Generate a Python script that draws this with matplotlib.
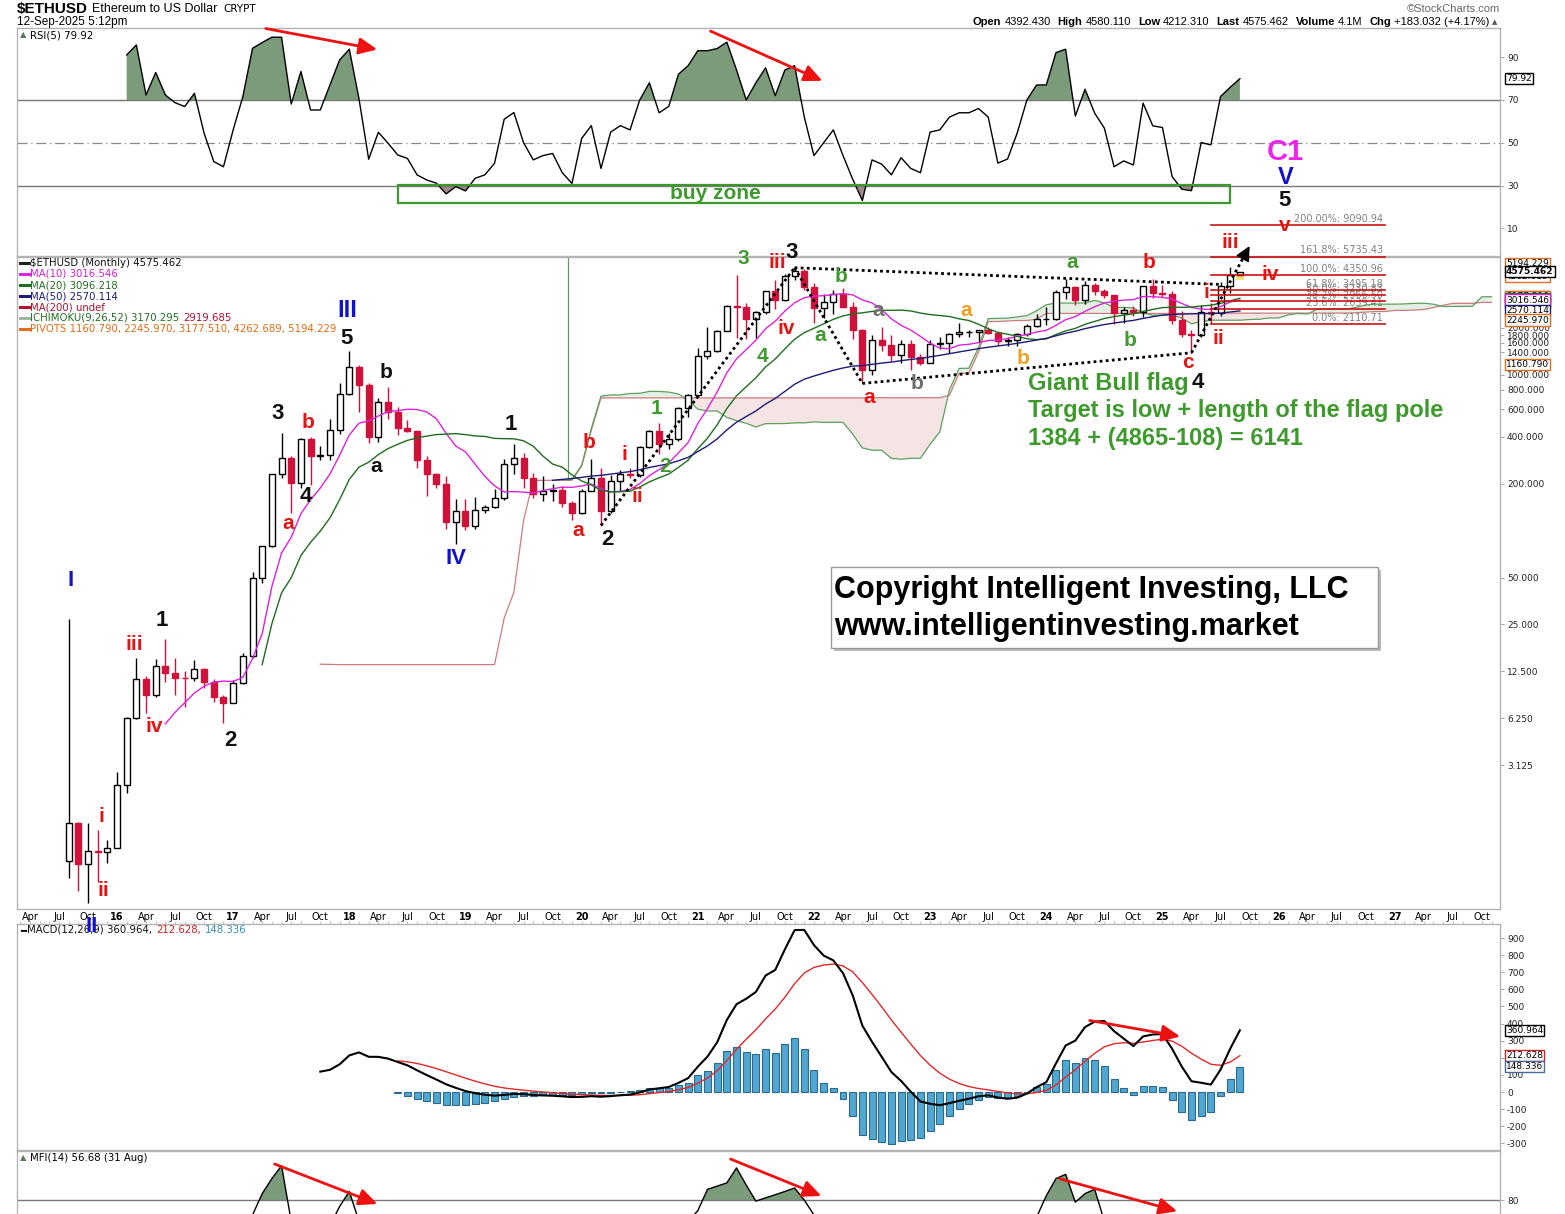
import numpy as np
import pandas as pd
import matplotlib
matplotlib.use("Agg")
import matplotlib.pyplot as plt
from matplotlib.patches import Rectangle, FancyArrowPatch
from matplotlib import font_manager
import matplotlib.transforms as mtransforms
from matplotlib.ticker import FixedLocator, NullLocator, FixedFormatter

nan = np.nan

# ---------------- data (monthly ETHUSD, Aug-2015 .. Sep-2025) ----------------
months = pd.period_range("2015-08", "2025-09", freq="M")

opens = [0.76, 1.32, 0.72, 0.88, 0.87,
         0.92, 2.33, 6.25, 11.1, 8.8, 13.5, 12.2, 11.4, 11.3, 13.0, 10.6, 8.5,
         7.8, 10.5, 15.6, 50, 79.8, 230, 293, 201, 388, 302, 306, 442,
         756, 1118, 856, 396, 670, 578, 455, 433, 282, 232, 198, 113,
         133, 107, 136, 141, 162, 268, 291, 218, 172, 180, 182, 151,
         130, 180, 218, 133, 207, 231, 226, 345, 434, 360, 386, 615,
         738, 1314, 1419, 1918, 2772, 2707, 2275, 2536, 3433, 3000, 4290, 4630,
         3680, 2690, 2920, 3280, 2730, 1940, 1070, 1680, 1550, 1330, 1570, 1295,
         1196, 1585, 1605, 1822, 1870, 1874, 1934, 1857, 1645, 1671, 1815, 2050,
         2282, 2283, 3380, 3640, 3010, 3760, 3440, 3230, 2510, 2600, 2520, 3700,
         3330, 3300, 2240, 1820, 1795, 2530, 2490, 3700, 4392.43]
highs = [27.2, 1.35, 1.33, 1.20, 1.03,
         2.83, 6.4, 15.2, 11.6, 15.0, 20.3, 15.2, 12.6, 14.7, 13.2, 11.2, 8.8,
         11.0, 16.5, 54.5, 80, 232, 420, 300, 392, 396, 349, 518, 880,
         1420, 1160, 880, 710, 835, 624, 515, 436, 302, 233, 223, 159,
         159, 165, 146, 185, 288, 362, 317, 236, 224, 199, 194, 154,
         185, 288, 253, 227, 245, 253, 350, 444, 488, 420, 622, 755,
         1475, 2040, 1945, 2790, 4380, 2890, 2550, 3470, 4030, 4460, 4870, 4780,
         3900, 3280, 3480, 3580, 2950, 1970, 1790, 2030, 1790, 1660, 1680, 1350,
         1680, 1740, 1850, 2140, 1930, 1930, 2030, 1880, 1750, 1860, 2130, 2440,
         2720, 3520, 4090, 3730, 3980, 3890, 3560, 3250, 2730, 2770, 3740, 4110,
         3750, 3440, 2550, 1950, 2790, 2880, 3940, 4950, 4580.11]
lows = [0.59, 0.49, 0.41, 0.56, 0.74,
        0.92, 2.06, 6.2, 6.8, 8.5, 10.7, 8.8, 7.4, 10.9, 9.8, 7.9, 5.8,
        7.8, 10.3, 15.3, 46, 79, 218, 130, 187, 197, 282, 282, 417,
        740, 575, 367, 368, 520, 413, 430, 252, 167, 188, 102, 82,
        101, 102, 129, 140, 158, 230, 189, 162, 155, 156, 141, 117,
        127, 180, 107, 130, 180, 216, 222, 340, 308, 335, 376, 536,
        718, 1270, 1410, 1900, 1730, 1700, 1720, 2450, 2650, 2970, 4060, 3520,
        2160, 2300, 2450, 2710, 1700, 880, 1000, 1420, 1220, 1190, 1070, 1160,
        1190, 1460, 1370, 1760, 1740, 1620, 1820, 1550, 1530, 1520, 1770, 2040,
        2100, 2260, 3050, 2810, 2860, 3240, 3090, 2110, 2150, 2380, 2360, 3100,
        3160, 2120, 1760, 1385, 1750, 2110, 2370, 3350, 4212.31]
closes = [1.32, 0.72, 0.88, 0.87, 0.92,
          2.33, 6.25, 11.1, 8.8, 13.5, 12.2, 11.4, 11.3, 13.0, 10.6, 8.5, 7.8,
          10.5, 15.6, 50, 79.8, 230, 293, 201, 388, 302, 306, 442, 756,
          1118, 856, 396, 670, 578, 455, 433, 282, 232, 198, 113, 133,
          107, 136, 141, 162, 268, 291, 218, 172, 180, 182, 151, 130,
          180, 218, 133, 207, 231, 226, 345, 434, 360, 386, 615, 738,
          1314, 1419, 1918, 2772, 2707, 2275, 2536, 3433, 3000, 4290, 4630, 3680,
          2690, 2920, 3280, 2730, 1940, 1070, 1680, 1550, 1330, 1570, 1295, 1196,
          1585, 1605, 1822, 1870, 1874, 1934, 1857, 1645, 1671, 1815, 2050, 2282,
          2283, 3380, 3640, 3010, 3760, 3440, 3230, 2510, 2600, 2520, 3700, 3330,
          3300, 2240, 1820, 1795, 2530, 2490, 3700, 4390, 4575.462]

rsi_vals = [nan] * 6 + [
    91.0, 95.7, 72.3, 82.8, 72.3, 68.7, 66.9, 73.1, 54.4, 41.2, 38.8,
    56.0, 71.5, 94.1, 96.8, 99.3, 99.3, 68.1, 83.3, 65.3, 65.3, 77.0, 88.7,
    93.7, 70.5, 42.3, 54.9, 49.8, 44.3, 42.7, 35.0, 32.6, 31.1, 26.1, 29.5,
    27.5, 33.4, 35.0, 40.4, 61.0, 64.1, 50, 42, 44, 45, 36, 31,
    52, 58, 38, 55, 58, 56, 70, 78, 64, 67, 82, 86,
    93, 93, 94, 97, 84, 70, 78, 85, 72, 84, 86, 62,
    44, 50, 56, 44, 33, 23, 42, 40, 35, 43, 38, 36,
    55, 56, 62, 64, 64, 66, 62, 40.5, 42.4, 54.6, 70, 77,
    77, 92.1, 93.7, 62.5, 75, 63.8, 56.8, 38.8, 41.5, 39.6, 68.5, 57.9,
    57.1, 34.2, 28.3, 27.6, 50.1, 49.0, 71.6, 75.9, 79.92]

mfi_vals = [nan] * 14 + [
    58, 52, 50,
    55, 63, 73, 83, 90, 96, 70, 64, 60, 62, 68, 77,
    84, 70, 60, 58, 55, 50, 47, 42, 38, 35, 30, 32,
    30, 34, 36, 40, 48, 55, 52, 48, 46, 45, 42, 40,
    44, 48, 42, 47, 50, 52, 58, 62, 60, 62, 66, 70,
    75, 85, 86.5, 88, 95, 87, 79.5, 81, 82.5, 84, 85.6, 80,
    73, 66, 62, 58, 50, 40, 45, 44, 42, 45, 44, 42,
    50, 52, 55, 56, 55, 56, 55, 50, 49, 55, 62, 72,
    82, 90, 92, 79, 83, 85, 70, 60, 58, 56, 62, 60,
    58, 52, 45, 44, 48, 50, 54, 56.68, nan]

price_ticks = [3.125, 6.25, 12.5, 25, 50, 200, 400, 600, 800, 1000, 1400, 1600, 1800, 2000]
rsi_ticks = [10, 30, 50, 70, 90]
macd_ticks = list(range(-300, 1000, 100))
mfi_ticks = [80]

fib_names = ["0.0%", "23.6%", "38.2%", "50.0%", "61.8%", "100.0%", "161.8%", "200.00%"]
fib_values = [2110.71, 2639.41, 2966.50, 3230.83, 3495.18, 4350.96, 5735.43, 9090.94]
fib_span = ["2025-06", "2026-12"]

pivots = [1160.790, 2245.970, 3177.510, 4262.689, 5194.229]
last_price = 4575.462
ma10_last, ma20_last, ma50_last = 3016.546, 3096.218, 2570.114
ichi_last = (3170.295, 2919.685)
macd_last = (360.964, 212.628, 148.336)
rsi_last = 79.92
mfi_last = 56.68

# Elliott wave / flag drawing anchors (month, price)
flag_pole = [("2020-03", 108), ("2021-11", 4865)]
flag_upper = [("2021-11", 4865), ("2025-07", 3800)]
flag_left = [("2021-11", 4865), ("2022-06", 880)]
flag_lower = [("2022-06", 880), ("2025-04", 1385)]
breakout = [("2025-04", 1385), ("2025-10", 6700)]
buy_zone = [("2018-06", 21.9), ("2025-08", 30.3)]

# ---------------- set-up ----------------
W, FH = 1565, 1214
names = {f.name for f in font_manager.fontManager.ttflist}
NARROW = "Liberation Sans Narrow" if "Liberation Sans Narrow" in names else "DejaVu Sans"
AX_FS = 9 if NARROW != "DejaVu Sans" else 6.5
plt.rcParams["font.family"] = ["Liberation Sans", "DejaVu Sans"]

fig = plt.figure(figsize=(W / 100, FH / 100), dpi=100)
fig.patch.set_facecolor("white")
R = fig.canvas.get_renderer()


def fx(x):
    return x / W


def fy(y):
    return 1 - y / FH


def rect(top, bottom, left=17, right=1500):
    return [left / W, 1 - bottom / FH, (right - left) / W, (bottom - top) / FH]


def mi(s):
    p = pd.Period(s, "M")
    return (p.year - 2016) * 12 + p.month - 1


XL = (-10.33, 142.87)
xm = np.array([(p.year - 2016) * 12 + p.month - 1 for p in months], dtype=float)
O, Hh, L, C = (np.array(a, dtype=float) for a in (opens, highs, lows, closes))

RED = "#d0123a"
LRED = "#e31414"
BLUE = "#1212cc"
GREEN = "#3f9a2e"
GRAY = "#6e6e6e"
ORANGE = "#f0a020"
MAGENTA = "#ee22ee"
FRAME = "#b4b4b4"

ax_rsi = fig.add_axes(rect(28, 256))
ax_p = fig.add_axes(rect(257, 909))
ax_m = fig.add_axes(rect(924, 1150))
ax_f = fig.add_axes(rect(1151, 1379))


def style(ax):
    ax.set_xlim(*XL)
    for s in ax.spines.values():
        s.set_color(FRAME)
        s.set_linewidth(1)
    ax.yaxis.tick_right()
    ax.tick_params(axis="y", which="both", length=3, width=0.6, color="#999",
                   labelsize=AX_FS, labelcolor="#222", pad=2)
    ax.tick_params(axis="x", which="both", bottom=False, top=False, labelbottom=False)


for a in (ax_rsi, ax_p, ax_m, ax_f):
    style(a)

# ---------------- RSI ----------------
r = np.array(rsi_vals, dtype=float)
ax_rsi.set_ylim(-2.9, 103.6)
ax_rsi.axhline(70, color="#777", lw=1)
ax_rsi.axhline(30, color="#777", lw=1)
ax_rsi.axhline(50, color="#888", lw=0.9, ls=(0, (8, 3, 1, 3)))
ax_rsi.fill_between(xm, r, 70, where=r >= 70, interpolate=True, color="#7b9b7b", lw=0)
ax_rsi.fill_between(xm, r, 30, where=r <= 30, interpolate=True, color="#a58686", lw=0)
ax_rsi.plot(xm, r, color="black", lw=1)
ax_rsi.set_yticks(rsi_ticks)
ax_rsi.set_yticklabels([str(t) for t in rsi_ticks], fontfamily=NARROW)
bz0, bz1 = mi(buy_zone[0][0]), mi(buy_zone[1][0])
ax_rsi.add_patch(Rectangle((bz0, buy_zone[0][1]), bz1 - bz0, buy_zone[1][1] - buy_zone[0][1],
                           fill=False, ec="#3c9a2c", lw=1.6, zorder=5))

# ---------------- price ----------------
ax_p.set_yscale("log")
ax_p.set_ylim(0.373, 5700)
up = C >= O
lo_b, hi_b = np.minimum(O, C), np.maximum(O, C)
ax_p.vlines(xm[up], L[up], Hh[up], color="black", lw=1, zorder=3)
ax_p.vlines(xm[~up], L[~up], Hh[~up], color=RED, lw=1, zorder=3)
ax_p.bar(xm[-1], 4575.462 - 4060, bottom=4060, width=0.9, color="#f6e27a", zorder=3.5, lw=0)
ax_p.bar(xm[up], hi_b[up] - lo_b[up], bottom=lo_b[up], width=0.62, facecolor="white",
         edgecolor="black", lw=1, zorder=4)
ax_p.bar(xm[~up], hi_b[~up] - lo_b[~up], bottom=lo_b[~up], width=0.62, facecolor=RED,
         edgecolor=RED, lw=1, zorder=4)

# moving averages (StockCharts starts one bar later)
cs = pd.Series(C)


def sma(n):
    s = cs.rolling(n).mean()
    s.iloc[:n] = np.nan
    return s.values


ax_p.plot(xm, sma(10), color="#dd22dd", lw=1, zorder=5)
ax_p.plot(xm, sma(20), color="#1f6e1f", lw=1, zorder=5)
ax_p.plot(xm, sma(50), color="#1c1c78", lw=1, zorder=5)

# Ichimoku cloud
hs, ls_ = pd.Series(Hh), pd.Series(L)
tenkan = (hs.rolling(9).max() + ls_.rolling(9).min()) / 2
kijun = (hs.rolling(26).max() + ls_.rolling(26).min()) / 2
spanA_raw = ((tenkan + kijun) / 2).values
spanB_raw = ((hs.rolling(52, min_periods=1).max() + ls_.rolling(52, min_periods=1).min()) / 2).values
xi = np.concatenate([xm, xm[-1] + np.arange(1, 27)])
spanA = np.full(len(xi), np.nan)
spanB = np.full(len(xi), np.nan)
spanA[26:] = spanA_raw
spanB[26:] = spanB_raw
okAB = ~np.isnan(spanA) & ~np.isnan(spanB)
ax_p.fill_between(xi, spanA, spanB, where=okAB & (spanB >= spanA), interpolate=True,
                  color="#f4e4e4", lw=0, zorder=1)
ax_p.fill_between(xi, spanA, spanB, where=okAB & (spanA > spanB), interpolate=True,
                  color="#e4f0e4", lw=0, zorder=1)
ax_p.plot(xi, spanB, color="#cc7b80", lw=0.9, zorder=1.5)
ax_p.plot(xi, spanA, color="#5e9e5e", lw=0.9, zorder=1.5)
iA = np.where(~np.isnan(spanA))[0][0]
ax_p.plot([xi[iA] + 0.6, xi[iA] + 0.6], [5700, spanA[iA]], color="#5e9e5e", lw=0.9, zorder=1.5)

ax_p.yaxis.set_major_locator(FixedLocator(price_ticks))
ax_p.yaxis.set_major_formatter(FixedFormatter([f"{t:.3f}" for t in price_ticks]))
ax_p.yaxis.set_minor_locator(NullLocator())
for t in ax_p.get_yticklabels():
    t.set_fontfamily(NARROW)

# x axis labels (under price panel)
xt, xl, xb = [], [], []
for yr in range(2015, 2028):
    for mo, nm in [(1, None), (4, "Apr"), (7, "Jul"), (10, "Oct")]:
        m = (yr - 2016) * 12 + mo - 1
        if XL[0] <= m <= XL[1]:
            xt.append(m)
            xl.append(f"{yr % 100:02d}" if mo == 1 else nm)
            xb.append(mo == 1)
ax_p.set_xticks(xt)
ax_p.set_xticklabels(xl)
ax_p.tick_params(axis="x", bottom=True, labelbottom=True, length=0, pad=2,
                 labelsize=8.5 if NARROW != "DejaVu Sans" else 7)
for t, b in zip(ax_p.get_xticklabels(), xb):
    t.set_fontfamily(NARROW)
    if b:
        t.set_fontweight("bold")

# fib levels
f0, f1 = mi(fib_span[0]), mi(fib_span[1])
off = mtransforms.offset_copy(ax_p.transData, fig=fig, x=0, y=1.5, units="dots")
for nm, v in zip(fib_names, fib_values):
    ax_p.plot([f0, f1], [v, v], color="#cc1010", lw=1.2, clip_on=False, zorder=6)
    ax_p.text(f1 - 0.2, v, f"{nm}: {v:.2f}", transform=off, ha="right", va="bottom",
              fontsize=7, color="#808080", fontfamily="DejaVu Sans", zorder=6, clip_on=False)

# flag drawing
for seg in (flag_pole, flag_upper, flag_left, flag_lower, breakout):
    ax_p.plot([mi(seg[0][0]), mi(seg[1][0])], [seg[0][1], seg[1][1]], color="black", lw=2,
              ls=(0, (1, 1.2)), zorder=7, clip_on=False)
bx0, by0 = mi(breakout[0][0]), breakout[0][1]
bx1, by1 = mi(breakout[1][0]), breakout[1][1]
tx = bx0 + 0.9 * (bx1 - bx0)
ty = by0 * (by1 / by0) ** 0.9
ax_p.annotate("", xy=(bx1, by1), xytext=(tx, ty), zorder=8, annotation_clip=False,
              arrowprops=dict(arrowstyle="-|>,head_length=0.8,head_width=0.4", mutation_scale=11,
                              color="black", lw=1.2, shrinkA=0, shrinkB=0))

# ---------------- MACD ----------------
def ema(a, n):
    out = np.full(len(a), np.nan)
    valid = np.where(~np.isnan(a))[0]
    s = valid[0]
    seed = s + n - 1
    out[seed] = np.mean(a[s:seed + 1])
    k = 2 / (n + 1)
    for i in range(seed + 1, len(a)):
        out[i] = a[i] * k + out[i - 1] * (1 - k)
    return out


c1 = C.copy()
c1[0] = np.nan
macd = ema(c1, 12) - ema(c1, 26)
sig = ema(macd, 9)
hist = macd - sig
ax_m.set_ylim(-339, 982)
okh = ~np.isnan(hist)
ax_m.bar(xm[okh], hist[okh], width=0.72, color="#52a6d2", edgecolor="#2c6a8c", lw=0.8, zorder=2)
ax_m.plot(xm, sig, color="#e02828", lw=1, zorder=3)
ax_m.plot(xm, macd, color="black", lw=1.5, zorder=4)
ax_m.set_yticks(macd_ticks)
ax_m.set_yticklabels([str(t) for t in macd_ticks], fontfamily=NARROW)
ax_m.set_xticks(np.arange(-10, 143, 1), minor=True)
ax_m.tick_params(axis="x", which="minor", top=True, length=2, width=0.5, color="#aaa", direction="out")

# ---------------- MFI ----------------
f = np.array(mfi_vals, dtype=float)
ax_f.set_ylim(-3.6, 102.9)
ax_f.axhline(80, color="#777", lw=1)
ax_f.fill_between(xm, f, 80, where=f >= 80, interpolate=True, color="#7b9b7b", lw=0)
ax_f.plot(xm, f, color="black", lw=1)
ax_f.set_yticks(mfi_ticks)
ax_f.set_yticklabels([str(t) for t in mfi_ticks], fontfamily=NARROW)

# ---------------- right-axis value boxes ----------------
def vbox(ax, val, txt, ec, bold=False, tc="black"):
    tr = mtransforms.blended_transform_factory(ax.transAxes, ax.transData)
    ax.text(1.004, val, txt, transform=tr, ha="left", va="center", fontsize=AX_FS,
            fontfamily=NARROW, color=tc, fontweight="bold" if bold else "normal", clip_on=False,
            bbox=dict(boxstyle="square,pad=0.12", fc="white", ec=ec, lw=1), zorder=10)


vbox(ax_rsi, rsi_last, f"{rsi_last:.2f}", "black")
vbox(ax_p, ichi_last[1], f"{ichi_last[1]:.3f}", "#b01030")
vbox(ax_p, ichi_last[0], f"{ichi_last[0]:.3f}", "#2a7a2a")
vbox(ax_p, pivots[2], f"{pivots[2]:.3f}", "#e07020")
vbox(ax_p, ma20_last, f"{ma20_last:.3f}", "#1f6e1f")
vbox(ax_p, pivots[3], f"{pivots[3]:.3f}", "#e07020")
vbox(ax_p, pivots[4], f"{pivots[4]:.3f}", "#e07020")
vbox(ax_p, last_price, f"{last_price:.3f}", "black", bold=True)
vbox(ax_p, ma10_last, f"{ma10_last:.3f}", "#dd22dd")
vbox(ax_p, ma50_last, f"{ma50_last:.3f}", "#1c1c78")
vbox(ax_p, pivots[1], f"{pivots[1]:.3f}", "#e07020")
vbox(ax_p, pivots[0], f"{pivots[0]:.3f}", "#e07020")
vbox(ax_m, macd_last[0], f"{macd_last[0]:.3f}", "black")
vbox(ax_m, macd_last[1], f"{macd_last[1]:.3f}", "#d02020")
vbox(ax_m, macd_last[2], f"{macd_last[2]:.3f}", "#4a6a9a")

# ---------------- text helpers ----------------
def seq_text(x, y, parts, ha="left"):
    cur = x
    arts = []
    for s, kw, gap in parts:
        t = fig.text(fx(cur), fy(y), s, ha="left", va="center", **kw)
        bb = t.get_window_extent(renderer=R)
        cur += bb.width + gap
        arts.append(t)
    if ha == "right":
        shift = cur - x
        for t in arts:
            px, py = t.get_position()
            t.set_position((px - shift / W, py))
    return arts


seq_text(17, 9, [("$ETHUSD", dict(fontsize=11, fontweight="bold"), 4),
                 ("Ethereum to US Dollar", dict(fontsize=9), 6),
                 ("CRYPT", dict(fontsize=7.5, fontfamily="DejaVu Sans"), 0)])
fig.text(fx(17), fy(22), "12-Sep-2025 5:12pm", fontsize=8.5, va="center", ha="left")
fig.text(fx(1500), fy(9), "\u00a9StockCharts.com", fontsize=8, color="#666", va="center", ha="right")
B = dict(fontsize=8, fontweight="bold")
N = dict(fontsize=8)
seq_text(1497, 22, [("Open", B, 3), ("4392.430", N, 7), ("High", B, 3), ("4580.110", N, 7),
                    ("Low", B, 3), ("4212.310", N, 7), ("Last", B, 3), ("4575.462", N, 7),
                    ("Volume", B, 3), ("4.1M", N, 7), ("Chg", B, 3), ("+183.032 (+4.17%)", N, 2),
                    ("\u25b2", dict(fontsize=5, fontfamily="DejaVu Sans", color="#555"), 0)], ha="right")

LF = dict(fontsize=7.3, fontfamily="DejaVu Sans")
fig.text(fx(20), fy(35), "\u25b2", fontsize=6, color="#5a7a5a", va="center", fontfamily="DejaVu Sans")
fig.text(fx(30), fy(35), f"RSI(5) {rsi_last:.2f}", va="center", **LF)

legend_rows = [
    (263, "#222", [("$ETHUSD (Monthly) 4575.462", "#111")]),
    (274, "#dd22dd", [(f"MA(10) {ma10_last:.3f}", "#cc22cc")]),
    (285, "#1f6e1f", [(f"MA(20) {ma20_last:.3f}", "#1f6e1f")]),
    (296, "#1c1c78", [(f"MA(50) {ma50_last:.3f}", "#1c1c78")]),
    (307, "#b01030", [("MA(200) undef", "#b01030")]),
    (318, "#9ab89a", [(f"ICHIMOKU(9,26,52) {ichi_last[0]:.3f}", "#1f6e1f"), (f"{ichi_last[1]:.3f}", "#b01030")]),
    (329, "#e07020", [("PIVOTS " + ", ".join(f"{p:.3f}" for p in pivots), "#e06a10")]),
]
for y, icol, parts in legend_rows:
    fig.add_artist(plt.Line2D([fx(20), fx(29)], [fy(y), fy(y)], color=icol, lw=2.2, transform=fig.transFigure))
    seq_text(30, y, [(s, dict(color=c, **LF), 4) for s, c in parts])

seq_text(20, 930, [("\u2501", dict(color="black", **LF), 1),
                   ("MACD(12,26,9) 360.964,", dict(color="#111", **LF), 4),
                   ("212.628,", dict(color="#d02020", **LF), 4),
                   ("148.336", dict(color="#3a90b8", **LF), 0)])
fig.text(fx(20), fy(1158), "\u25b2", fontsize=6, color="#5a7a5a", va="center", fontfamily="DejaVu Sans")
fig.text(fx(30), fy(1158), f"MFI(14) {mfi_last:.2f} (31 Aug)", va="center", **LF)

# buy zone caption
fig.text(fx(715), fy(194), "buy zone", color="#3c9a2c", fontsize=15, fontweight="bold",
         ha="center", va="center", zorder=20)

# ---------------- wave labels ----------------
BLACK = "#111111"
wave_labels = [
    ("I", 71, 580, BLUE, 16), ("i", 101, 816, LRED, 15), ("ii", 103, 891, LRED, 15),
    ("iii", 134, 645, LRED, 15), ("iv", 154, 727, LRED, 15), ("1", 162, 620, BLACK, 16),
    ("2", 230, 740, BLACK, 16), ("3", 278, 414, BLACK, 16), ("b", 308, 422, LRED, 15),
    ("a", 288, 523, LRED, 15), ("4", 306, 496, BLACK, 16), ("III", 347, 311, BLUE, 17),
    ("5", 347, 338, BLACK, 16), ("b", 386, 373, BLACK, 15), ("a", 376, 466, BLACK, 15),
    ("IV", 456, 559, BLUE, 16), ("1", 511, 425, BLACK, 16), ("b", 589, 443, LRED, 15),
    ("a", 578, 531, LRED, 15), ("2", 607, 540, BLACK, 16), ("i", 624, 454, LRED, 15),
    ("ii", 637, 497, LRED, 15), ("1", 656, 408, GREEN, 15), ("2", 665, 466, GREEN, 15),
    ("3", 743, 258, GREEN, 15), ("iii", 777, 263, LRED, 15), ("3", 792, 252, BLACK, 16),
    ("iv", 786, 328, LRED, 15), ("4", 762, 356, GREEN, 15), ("b", 841, 277, GREEN, 15),
    ("a", 820, 335, GREEN, 15), ("a", 878, 311, GRAY, 15), ("a", 869, 398, LRED, 15),
    ("b", 917, 384, GRAY, 15), ("a", 966, 310, ORANGE, 15), ("b", 1023, 358, ORANGE, 15),
    ("a", 1072, 263, GREEN, 15), ("b", 1149, 263, LRED, 15), ("b", 1130, 340, GREEN, 15),
    ("c", 1188, 362, LRED, 15), ("i", 1206, 293, LRED, 15), ("ii", 1218, 338, LRED, 15),
    ("4", 1198, 383, BLACK, 16), ("iii", 1230, 243, LRED, 15), ("iv", 1270, 275, LRED, 15),
    ("v", 1285, 225, LRED, 15), ("5", 1285, 201, BLACK, 16), ("V", 1286, 178, BLUE, 17),
    ("C1", 1285, 152, MAGENTA, 21), ("II", 92, 926, BLUE, 16),
]
for s, x, y, c, fs in wave_labels:
    fig.text(fx(x), fy(y), s, color=c, fontsize=fs, fontweight="bold", ha="center", va="center", zorder=20)

for i, line in enumerate(["Giant Bull flag", "Target is low + length of the flag pole",
                          "1384 + (4865-108) = 6141"]):
    fig.text(fx(1028), fy(384 + 27 * i), line, color=GREEN, fontsize=17, fontweight="bold",
             ha="left", va="center", zorder=20)

# copyright box
fig.add_artist(Rectangle((fx(834), fy(651)), 547 / W, 81 / FH, transform=fig.transFigure,
                         fc="#bbbbbb", ec="none", zorder=18))
fig.add_artist(Rectangle((fx(831), fy(648)), 547 / W, 81 / FH, transform=fig.transFigure,
                         fc="white", ec="#999999", lw=1, zorder=19))
fig.text(fx(834), fy(590), "Copyright Intelligent Investing, LLC", fontsize=22, fontweight="bold",
         color="black", ha="left", va="center", zorder=20)
fig.text(fx(834), fy(627), "www.intelligentinvesting.market", fontsize=22, fontweight="bold",
         color="black", ha="left", va="center", zorder=20)

# red divergence arrows (pixel positions)
red_arrows = [((263, 28), (380, 50)), ((708, 30), (825, 82)), ((1087, 1020), (1183, 1037)),
              ((272, 1163), (380, 1205)), ((728, 1158), (824, 1197)), ((1057, 1178), (1180, 1212))]
for (x0, y0), (x1, y1) in red_arrows:
    fig.add_artist(FancyArrowPatch((fx(x0), fy(y0)), (fx(x1), fy(y1)), transform=fig.transFigure,
                                   arrowstyle="-|>,head_length=11,head_width=5", mutation_scale=1,
                                   color="#ee1111", lw=2, zorder=21))

fig.savefig("out.png", dpi=100, facecolor="white")
